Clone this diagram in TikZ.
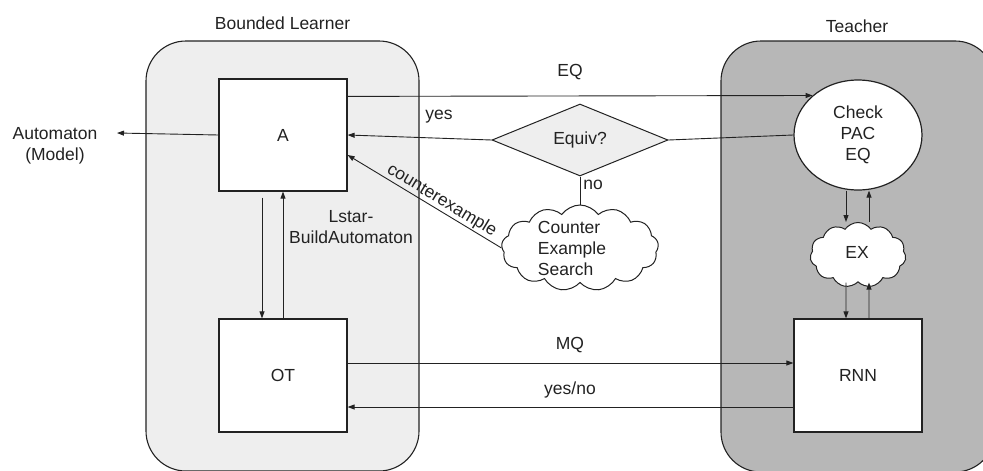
\documentclass[tikz,border=0pt]{standalone}
\usepackage{fontspec}
\setmainfont{Liberation Sans}
\usetikzlibrary{shapes.geometric,shapes.symbols,arrows.meta,calc}
\definecolor{learnbg}{HTML}{EEEEEE}
\definecolor{teachbg}{HTML}{B7B7B7}
\definecolor{ink}{HTML}{222222}
\begin{document}
\begin{tikzpicture}[x=1pt,y=-1pt,
  every node/.style={font=\fontsize{17.5}{21}\selectfont, text=ink},
  conn/.style={line width=0.9pt, draw=ink},
  arr/.style={conn, -{Triangle[length=7pt,width=5pt]}},
  region/.style={draw=ink, line width=1.1pt, rounded corners=40pt, inner sep=0pt},
  boxn/.style={draw=ink, line width=1.2pt, fill=white, minimum width=128pt, minimum height=112pt, inner sep=0pt},
  lbl/.style={inner sep=0pt, align=center}]
\useasboundingbox (0,0) rectangle (983,471);
% regions
\node[region, fill=learnbg, minimum width=273pt, minimum height=430pt] (L) at (282.5,256) {};
\node[region, fill=teachbg, minimum width=274pt, minimum height=431pt] (T) at (858,256.5) {};
\node[lbl] (Llbl) at (282.5,23) {Bounded Learner};
\node[lbl] (Tlbl) at (857,26) {Teacher};
% nodes
\node[boxn] (A) at (283,135) {A};
\node[boxn, minimum height=113pt] (OT) at (283,375.5) {OT};
\node[boxn, minimum height=113pt] (RNN) at (858,375.5) {RNN};
\node[ellipse, draw=ink, line width=1.2pt, fill=white, minimum width=128pt, minimum height=110pt, inner sep=0pt, align=center] (chk) at (858,135) {Check\\PAC\\EQ};
\node[diamond, draw=ink, line width=1pt, fill=learnbg, minimum width=176pt, minimum height=72pt, inner sep=0pt] (dm) at (580,140) {Equiv?};
\node[cloud, cloud puffs=13, cloud puff arc=110, cloud ignores aspect, draw=ink, line width=1pt, fill=white, minimum width=157pt, minimum height=86pt, inner sep=0pt] (cs) at (580,248) {};
\node[lbl, align=left] (cstxt) at (572,248) {Counter\\Example\\Search};
\node[cloud, cloud puffs=11, cloud puff arc=110, cloud ignores aspect, draw=ink, line width=1pt, fill=white, minimum width=96pt, minimum height=65pt, inner sep=0pt] (ex) at (858,255) {};
\node[lbl] (extxt) at (857,252) {EX};
\node[lbl] (am) at (55,146) {Automaton\\(Model)};
\coordinate (out) at (117,133);
% connectors
\draw[arr] (A.west) -- (out);
\draw[arr] ([yshift=-18pt]A.north east) -- (chk.139);
\node[lbl] (eqlbl) at (570,72) {EQ};
\draw[arr] (dm.west) -- (A.east);
\node[lbl] (yeslbl) at (439,117) {yes};
\draw[conn] (chk.west) -- (dm.east);
\draw[conn] (dm.south) -- (cs.north);
\node[lbl] (nolbl) at (593,185) {no};
\draw[conn, {Triangle[length=7pt,width=5pt]}-] ([yshift=-20pt]A.east) -- (cs.west)
  node[pos=0.58, sloped, above=0pt, inner sep=1pt] {counterexample};
\draw[arr] ([xshift=-21pt,yshift=-6pt]A.south) -- ([xshift=-21pt]OT.north);
\draw[arr] (OT.north) -- (A.south);
\node[lbl] (lstar) at (351,227) {Lstar-\\BuildAutomaton};
\draw[arr] ([yshift=12.5pt]OT.east) -- ([yshift=12.5pt]RNN.west);
\node[lbl] (mqlbl) at (570,345) {MQ};
\draw[arr] ([yshift=-31.5pt]RNN.west) -- ([yshift=-31.5pt]OT.east);
\node[lbl] (ynlbl) at (570,390) {yes/no};
\draw[arr] ([xshift=-12pt]chk.south) -- ([xshift=-12pt]ex.north);
\draw[arr] ([xshift=11pt]ex.north) -- ([xshift=11pt]chk.south);
\draw[arr] ([xshift=-12pt]ex.south) -- ([xshift=-12pt]RNN.north);
\draw[arr] ([xshift=11pt]RNN.north) -- ([xshift=11pt]ex.south);
\end{tikzpicture}
\end{document}
